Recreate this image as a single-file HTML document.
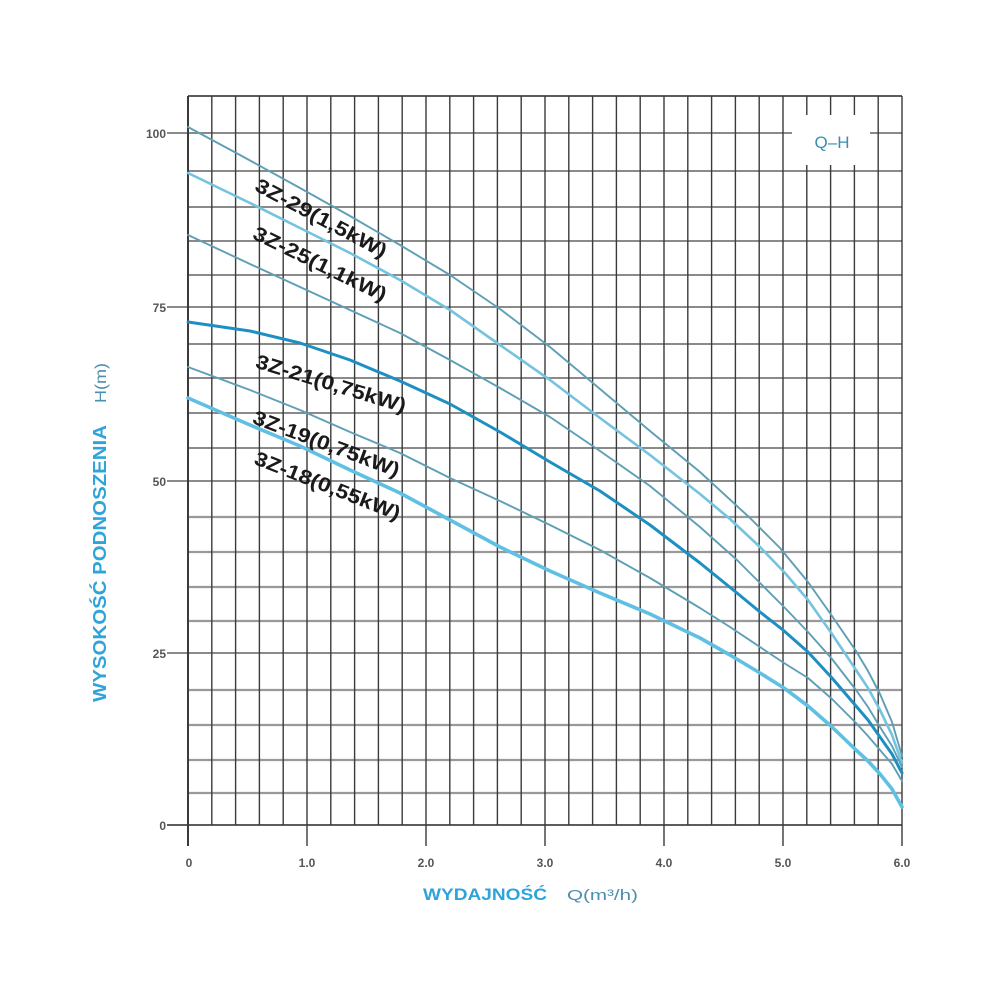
<!DOCTYPE html>
<html><head><meta charset="utf-8"><style>
html,body{margin:0;padding:0;background:#fff;}
svg{display:block;}
</style></head><body>
<svg width="1000" height="1000" viewBox="0 0 1000 1000" xmlns="http://www.w3.org/2000/svg">
<rect width="1000" height="1000" fill="#fff"/>
<g id="hgrid" stroke="#7a7a7a" stroke-width="1.8" fill="none">
<line x1="188" y1="96" x2="902" y2="96" stroke="#444"/>
<line x1="167" y1="133" x2="902" y2="133"/>
<line x1="188" y1="171" x2="902" y2="171"/>
<line x1="188" y1="207" x2="902" y2="207"/>
<line x1="188" y1="241" x2="902" y2="241"/>
<line x1="188" y1="275" x2="902" y2="275"/>
<line x1="167" y1="307" x2="902" y2="307"/>
<line x1="188" y1="344" x2="902" y2="344"/>
<line x1="188" y1="378" x2="902" y2="378"/>
<line x1="188" y1="413" x2="902" y2="413"/>
<line x1="188" y1="448" x2="902" y2="448"/>
<line x1="167" y1="481" x2="902" y2="481"/>
<line x1="188" y1="517" x2="902" y2="517" stroke="#999" stroke-width="2.2"/>
<line x1="188" y1="552" x2="902" y2="552" stroke="#999" stroke-width="2.2"/>
<line x1="188" y1="587" x2="902" y2="587" stroke="#999" stroke-width="2.2"/>
<line x1="188" y1="621" x2="902" y2="621" stroke="#999" stroke-width="2.2"/>
<line x1="167" y1="653" x2="902" y2="653"/>
<line x1="188" y1="690" x2="902" y2="690" stroke="#999" stroke-width="2.2"/>
<line x1="188" y1="725" x2="902" y2="725" stroke="#999" stroke-width="2.2"/>
<line x1="188" y1="760" x2="902" y2="760" stroke="#999" stroke-width="2.2"/>
<line x1="188" y1="793" x2="902" y2="793" stroke="#999" stroke-width="2.2"/>
<line x1="167" y1="825" x2="902" y2="825" stroke="#444"/>
</g>
<g id="vgrid" stroke="#3a3a3a" stroke-width="1.4" fill="none">
<line x1="188" y1="96" x2="188" y2="846" stroke-width="2"/>
<line x1="211.8" y1="96" x2="211.8" y2="825"/>
<line x1="235.6" y1="96" x2="235.6" y2="825"/>
<line x1="259.4" y1="96" x2="259.4" y2="825"/>
<line x1="283.2" y1="96" x2="283.2" y2="825"/>
<line x1="307" y1="96" x2="307" y2="846"/>
<line x1="330.8" y1="96" x2="330.8" y2="825"/>
<line x1="354.6" y1="96" x2="354.6" y2="825"/>
<line x1="378.4" y1="96" x2="378.4" y2="825"/>
<line x1="402.2" y1="96" x2="402.2" y2="825"/>
<line x1="426" y1="96" x2="426" y2="846"/>
<line x1="449.8" y1="96" x2="449.8" y2="825"/>
<line x1="473.6" y1="96" x2="473.6" y2="825"/>
<line x1="497.4" y1="96" x2="497.4" y2="825"/>
<line x1="521.2" y1="96" x2="521.2" y2="825"/>
<line x1="545" y1="96" x2="545" y2="846"/>
<line x1="568.8" y1="96" x2="568.8" y2="825"/>
<line x1="592.6" y1="96" x2="592.6" y2="825"/>
<line x1="616.4" y1="96" x2="616.4" y2="825"/>
<line x1="640.2" y1="96" x2="640.2" y2="825"/>
<line x1="664" y1="96" x2="664" y2="846"/>
<line x1="687.8" y1="96" x2="687.8" y2="825"/>
<line x1="711.6" y1="96" x2="711.6" y2="825"/>
<line x1="735.4" y1="96" x2="735.4" y2="825"/>
<line x1="759.2" y1="96" x2="759.2" y2="825"/>
<line x1="783" y1="96" x2="783" y2="846"/>
<line x1="806.8" y1="96" x2="806.8" y2="825"/>
<line x1="830.6" y1="96" x2="830.6" y2="825"/>
<line x1="854.4" y1="96" x2="854.4" y2="825"/>
<line x1="878.2" y1="96" x2="878.2" y2="825"/>
<line x1="902" y1="96" x2="902" y2="846"/>
</g>
<!-- Q-H box -->
<rect x="792" y="115" width="78" height="50" fill="#fff"/>
<text x="832" y="148" text-anchor="middle" font-family="Liberation Sans, sans-serif" font-size="17" fill="#3a8db3">Q–H</text>

<!-- curves -->
<g fill="none" stroke-linejoin="round" stroke-linecap="round">
<polyline stroke="#5f9fb6" stroke-width="1.9" points="188,127 240,155 300,188 350,216 400,245 450,275 500,309 550,347 600,389 650,431 700,472 750,518 780,548 808,582 832,616 856,651 868,671 880,694 892,722 902,756"/>
<polyline stroke="#74c3df" stroke-width="2.6" points="188,173 250,203 300,228 350,253 400,280 450,310 500,345 550,380 600,418 650,455 700,494 730,519 760,547 785,573 808,600 832,634 856,670 868,688 880,710 892,735 902,763"/>
<polyline stroke="#5f9fb6" stroke-width="1.9" points="188,235 250,264 300,287 350,310 400,333 450,360 500,388 550,417 600,451 650,486 700,527 737,560 760,583 784,607 808,632 832,659 856,690 868,707 880,727 892,746 902,767"/>
<polyline stroke="#1d8fc2" stroke-width="3" points="188,322 250,331 300,343 350,360 400,381 450,404 500,432 550,462 600,491 650,525 700,563 737,593 760,612 783,630 808,652 832,678 856,706 868,720 880,737 892,754 902,773"/>
<polyline stroke="#5f9fb6" stroke-width="1.9" points="188,367 250,390 300,410 350,432 400,453 450,478 500,501 550,525 600,550 650,578 700,608 730,627 760,647 784,663 808,678 832,699 856,723 868,736 880,750 892,764 902,781"/>
<polyline stroke="#5fc0e4" stroke-width="3.6" points="188,398 250,425 300,446 350,470 400,493 450,520 500,547 550,571 600,593 650,614 700,638 730,655 760,673 784,688 808,706 832,727 856,750 868,761 880,774 892,789 902,807"/>
</g>

<!-- curve labels -->
<g font-family="Liberation Sans, sans-serif" font-weight="bold" font-size="20" fill="#1a1a1a" text-anchor="middle">
<text transform="translate(318,224) rotate(28)" textLength="146" lengthAdjust="spacingAndGlyphs">3Z-29(1,5kW)</text>
<text transform="translate(317,270) rotate(26)" textLength="146" lengthAdjust="spacingAndGlyphs">3Z-25(1,1kW)</text>
<text transform="translate(329,390) rotate(17)" textLength="156" lengthAdjust="spacingAndGlyphs">3Z-21(0,75kW)</text>
<text transform="translate(324,450) rotate(20.5)" textLength="155" lengthAdjust="spacingAndGlyphs">3Z-19(0,75kW)</text>
<text transform="translate(325,492) rotate(21.5)" textLength="155" lengthAdjust="spacingAndGlyphs">3Z-18(0,55kW)</text>
</g>

<!-- y tick labels -->
<g font-family="Liberation Sans, sans-serif" font-weight="bold" font-size="12" fill="#555" text-anchor="end">
<text x="166" y="138">100</text>
<text x="166" y="312">75</text>
<text x="166" y="486">50</text>
<text x="166" y="658">25</text>
<text x="166" y="830">0</text>
</g>
<!-- x tick labels -->
<g font-family="Liberation Sans, sans-serif" font-weight="bold" font-size="12" fill="#555" text-anchor="middle">
<text x="189" y="867">0</text>
<text x="307" y="867">1.0</text>
<text x="426" y="867">2.0</text>
<text x="545" y="867">3.0</text>
<text x="664" y="867">4.0</text>
<text x="783" y="867">5.0</text>
<text x="902" y="867">6.0</text>
</g>

<!-- axis titles -->
<text x="423" y="900" font-family="Liberation Sans, sans-serif" font-weight="bold" font-size="17" fill="#2ea4da" textLength="124" lengthAdjust="spacingAndGlyphs">WYDAJNOŚĆ</text>
<text x="567" y="900" font-family="Liberation Sans, sans-serif" font-size="15" fill="#4d8fae" textLength="71" lengthAdjust="spacingAndGlyphs">Q(m³/h)</text>

<text transform="translate(106,702) rotate(-90)" font-family="Liberation Sans, sans-serif" font-weight="bold" font-size="18" fill="#2ea4da" textLength="277" lengthAdjust="spacingAndGlyphs">WYSOKOŚĆ PODNOSZENIA</text>
<text transform="translate(106,403) rotate(-90)" font-family="Liberation Sans, sans-serif" font-size="16" fill="#4d8fae" textLength="40" lengthAdjust="spacingAndGlyphs">H(m)</text>
</svg>
</body></html>
